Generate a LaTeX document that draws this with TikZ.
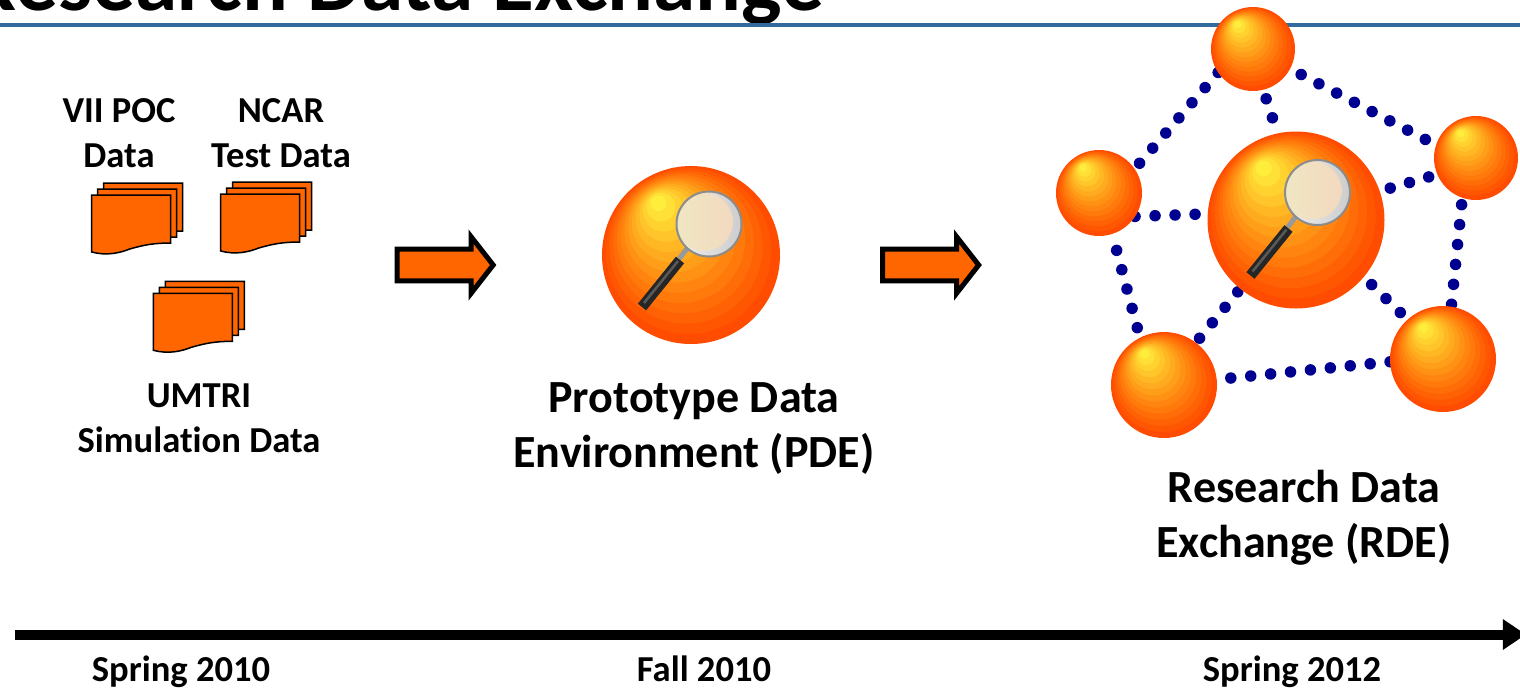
\documentclass[tikz,border=0pt]{standalone}
\usepackage{fontspec}
\setmainfont{Carlito}[RawFeature={-liga}]
\usetikzlibrary{arrows.meta, shapes.arrows, backgrounds}
\definecolor{docorange}{HTML}{FF6600}
\definecolor{rulecolor}{HTML}{336B9F}
\definecolor{dotcolor}{HTML}{000090}
\definecolor{ballrim}{rgb}{1,0.3,0}
\definecolor{lensleft}{HTML}{EFE7C3}
\definecolor{lensright}{HTML}{F2D9BF}
\tikzset{x = 0.01cm, y = -0.01cm,
         >= stealth,
         ball/.style = {circle, inner sep = 0, outer sep = 0, fill = ballrim,
                        minimum size = #1*0.01cm,
                        path picture = {
                          \foreach \t in {0.93,0.86,...,0.05} {
                            \pgfmathsetmacro\g{0.3 + 0.7*(1-\t)^1.1}
                            \pgfmathsetmacro\b{0.27*(1-\t)^1.4}
                            \definecolor{bandcol}{rgb}{1,\g,\b}
                            \fill[bandcol, shift = {(path picture bounding box.center)}]
                              ({-0.2*#1*(1-\t)}, {-0.32*#1*(1-\t)})
                              circle [radius = {\t*#1/2}];}}},
         dotlink/.style = {dotcolor, line width = 0.115cm, line cap = round,
                           dash pattern = on 0pt off 0.2cm, dash phase = #1*0.01cm},
         dotlink/.default = 0,
         smalltext/.style = {align = center, inner sep = 0,
                             font = \fontsize{10.4}{12.8}\selectfont\bfseries},
         bigtext/.style = {align = center, inner sep = 0,
                           font = \fontsize{13.1}{15.65}\selectfont\bfseries},
         flowarrow/.style = {single arrow, draw = black, fill = docorange,
                             line width = 0.05cm, inner xsep = 0, inner ysep = 0.133cm,
                             outer sep = 0, minimum height = 0.96cm,
                             single arrow head extend = 0.125cm,
                             single arrow tip angle = 104},
         docsheet/.pic = {
           \draw[fill = docorange, line width = 0.015cm]
             (0,0) -- (79,0) -- (79,48)
             .. controls (62,48) and (52,50) .. (38,54)
             .. controls (28,58) and (15,61) .. (0,57) -- cycle;},
         docstack/.pic = {
           \path (12,-12) pic {docsheet};
           \path (6,-6) pic {docsheet};
           \path (0,0) pic {docsheet};},
         magnifier/.pic = {
           \draw[line width = 0.05cm, gray!80] (-12,4) -- (-2,-9);
           \draw[line width = 0.105cm, black!85] (-49,52) -- (-11,5);
           \draw[line width = 0.025cm, black!65] (-47,48) -- (-13,6);
           \begin{scope}
             \clip (18,-31) circle [radius = 33];
             \fill[left color = black!6, right color = black!20] (-15,-64) rectangle (51,2);
             \shade[left color = lensleft, right color = lensright]
               (13,-33) circle [radius = 29];
           \end{scope}
           \draw[line width = 0.02cm, black!45] (18,-31) circle [radius = 32.5];}}

\begin{document}
\begin{tikzpicture}
  \clip (0,0) rectangle (1520,687);
  \node[font = \fontsize{24.3}{28}\selectfont\bfseries, anchor = base east, inner sep = 0]
    (title) at (825,10.5) {Research Data Exchange};
  \fill[rulecolor] (0,23) rectangle (1520,27);

  \path (91.7,195) pic {docstack};
  \path (220.7,194) pic {docstack};
  \path (153.3,293.3) pic {docstack};

  \node[smalltext] (vii)   at (119,133) {VII POC\\Data};
  \node[smalltext] (ncar)  at (281,133) {NCAR\\Test Data};
  \node[smalltext] (umtri) at (199,418) {UMTRI\\Simulation Data};

  \node[flowarrow] (step1) at (439,265) {};
  \node[flowarrow] (step2) at (924.5,265) {};

  \node[ball = 178] (pde) at (691,255) {};
  \path (691,255) pic {magnifier};
  \node[bigtext] (pdetext) at (694,429) {Prototype Data\\Environment (PDE)};

  \node[ball = 84]  (top)   at (1253,49)  {};
  \node[ball = 84]  (right) at (1476,158) {};
  \node[ball = 86]  (left)  at (1099,193) {};
  \node[ball = 106] (botl)  at (1164,385) {};
  \node[ball = 106] (botr)  at (1443,359) {};
  \node[ball = 177] (rde)   at (1296,220) {};
  \path (1299.5,223.5) pic {magnifier};
  \node[bigtext] (rdetext) at (1304,518) {Research Data\\Exchange (RDE)};

  \begin{scope}[on background layer]
    \path[dotlink]       (top.214)    edge (left.34);
    \path[dotlink = 7.5] (top.-28)    edge (right.162);
    \path[dotlink = 13]  (right.-109) edge (botr.81);
    \path[dotlink]       (botr.183)   edge (botl.6);
    \path[dotlink = 3]   (left.-72)   edge (botl.117);
    \path[dotlink = 10.5] (top.-76)   edge (rde.102);
    \path[dotlink]       (left.-33)   edge (rde.176);
    \path[dotlink = 9]   (rde.19)     edge (right.203);
    \path[dotlink = 9]   (rde.-40)    edge (botr.132);
    \path[dotlink = 16]  (rde.231)    edge (botl.53);
  \end{scope}

  \coordinate (tstart) at (15,634.5);
  \coordinate (tend) at (1526,634.5);
  \draw[line width = 0.1cm, -{Triangle[length = 0.23cm, width = 0.29cm]}] (tstart) -- (tend);

  \node[smalltext, anchor = base] (t1) at (181,681) {Spring 2010};
  \node[smalltext, anchor = base] (t2) at (704,681) {Fall 2010};
  \node[smalltext, anchor = base] (t3) at (1292,681) {Spring 2012};
\end{tikzpicture}
\end{document}
